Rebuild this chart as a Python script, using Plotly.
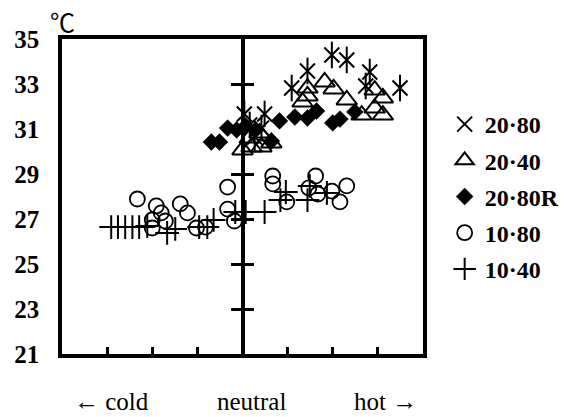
import plotly.graph_objects as go

# ---------------- data ----------------
# x: thermal sensation scale (cold -4 ... neutral 0 ... hot +4), y: temperature (deg C)
s2080_x = [0.04, 0.49, 0.16, 0.42, 0.27, 1.98, 2.31, 1.44, 2.82, 1.09, 3.49, 2.73]
s2080_y = [31.67, 31.67, 31.18, 31.04, 30.64, 34.29, 34.07, 33.58, 33.53, 32.82, 32.82, 32.91]

s2040_x = [0.00, 0.20, 0.42, 0.64, 0.16, 0.38, 1.44, 1.44, 1.82, 2.02, 1.33, 2.31, 2.64, 2.93, 3.11, 2.93, 3.11]
s2040_y = [30.07, 30.20, 30.20, 30.38, 30.60, 30.82, 32.82, 32.47, 33.09, 32.78, 32.20, 32.29, 31.62, 32.73, 32.38, 31.93, 31.62]

s2080r_x = [-0.69, -0.51, -0.33, -0.13, 0.07, 0.29, 0.64, 0.82, 1.16, 1.44, 1.64, 2.00, 2.16, 2.49]
s2080r_y = [30.42, 30.42, 31.04, 30.96, 31.13, 30.96, 30.47, 31.36, 31.53, 31.49, 31.80, 31.27, 31.44, 31.76]

s1080_x = [-2.33, -1.91, -1.80, -1.38, -1.22, -2.00, -1.71, -2.00, -1.02, -0.82, -0.33, -0.33, -0.18,
           0.67, 0.67, 0.98, 1.62, 1.47, 1.67, 1.98, 2.16, 2.31]
s1080_y = [27.89, 27.58, 27.27, 27.67, 27.27, 26.96, 26.91, 26.60, 26.60, 26.64, 28.42, 27.44, 26.91,
           28.91, 28.56, 27.76, 28.91, 28.38, 28.11, 28.24, 27.76, 28.47]

s1040_x = [-2.91, -2.76, -2.60, -2.44, -2.29, -2.11, -1.67, -1.49, -0.96, -0.78, -0.64, -0.16, 0.07, 0.49,
           0.84, 0.96, 1.44, 1.49, 1.87]
s1040_y = [26.64, 26.64, 26.64, 26.64, 26.64, 26.69, 26.38, 26.56, 26.64, 26.64, 26.96, 27.31, 27.31, 27.31,
           27.84, 28.20, 27.84, 28.47, 28.16]

series_names = ["20·80", "20·40", "20·80R", "10·80", "10·40"]

x_tick_vals = [-3, -2, -1, 1, 2, 3]
y_tick_vals = [21, 23, 25, 27, 29, 31, 33, 35]
mid_tick_vals = [23, 25, 27, 29, 31, 33]
x_range = [-4, 4]
y_range = [21, 35]

bottom_labels = ["← cold", "neutral", "hot →"]
bottom_label_x = [-2.91, 0.2, 3.16]

# ---------------- figure ----------------
SERIF = "Liberation Serif, Times New Roman, serif"
fig = go.Figure()

fig.add_trace(go.Scatter(x=s2080_x, y=s2080_y, mode="markers", name=series_names[0],
                         legendgroup="a",
                         marker=dict(symbol="x-thin-open", size=15, color="black",
                                     line=dict(color="black", width=2))))
fig.add_trace(go.Scatter(x=s2080_x, y=s2080_y, mode="markers", name=series_names[0],
                         legendgroup="a", showlegend=False,
                         marker=dict(symbol="line-ns-open", size=19, color="black",
                                     line=dict(color="black", width=2))))
fig.add_trace(go.Scatter(x=s2040_x, y=s2040_y, mode="markers", name=series_names[1],
                         legendgroup="b",
                         marker=dict(symbol="triangle-up-open", size=18, color="black",
                                     line=dict(color="black", width=2))))
fig.add_trace(go.Scatter(x=s2080r_x, y=s2080r_y, mode="markers", name=series_names[2],
                         legendgroup="c",
                         marker=dict(symbol="diamond", size=13, color="black",
                                     line=dict(color="black", width=0.5))))
fig.add_trace(go.Scatter(x=s1080_x, y=s1080_y, mode="markers", name=series_names[3],
                         legendgroup="d",
                         marker=dict(symbol="circle-open", size=15, color="black",
                                     line=dict(color="black", width=1.8))))
fig.add_trace(go.Scatter(x=s1040_x, y=s1040_y, mode="markers", name=series_names[4],
                         legendgroup="e",
                         marker=dict(symbol="cross-thin-open", size=17, color="black",
                                     line=dict(color="black", width=2))))

# invisible helpers so the central (neutral) axes get drawn
fig.add_trace(go.Scatter(x=[None], y=[None], yaxis="y2", showlegend=False, hoverinfo="skip"))
fig.add_trace(go.Scatter(x=[None], y=[None], yaxis="y3", showlegend=False, hoverinfo="skip"))

for lab, lx in zip(bottom_labels, bottom_label_x):
    fig.add_annotation(text=lab, x=lx, xref="x", y=-0.152, yref="paper",
                       showarrow=False, xanchor="center", yanchor="middle",
                       font=dict(family=SERIF, size=25, color="black"))

fig.add_annotation(text="℃", x=0.0, xref="paper", y=1.057, yref="paper",
                   showarrow=False, xanchor="center", yanchor="middle",
                   font=dict(family="Noto Sans CJK JP, Liberation Serif", size=25, color="black"))

fig.update_layout(
    width=578, height=417,
    margin=dict(l=62, r=155, t=39, b=63, autoexpand=False),
    paper_bgcolor="white", plot_bgcolor="white",
    font=dict(family=SERIF, color="black"),
    showlegend=True,
    legend=dict(x=1.06, y=0.80, xanchor="left", yanchor="top",
                font=dict(family=SERIF, size=24, color="black", weight="bold"),
                bgcolor="rgba(0,0,0,0)", tracegroupgap=2, itemwidth=30),
    xaxis=dict(range=x_range, showgrid=False, zeroline=False,
               showline=True, linecolor="black", linewidth=3.5, mirror=True,
               tickvals=x_tick_vals, ticks="inside", ticklen=7, tickwidth=3, tickcolor="black",
               showticklabels=False),
    yaxis=dict(range=y_range, showgrid=False, zeroline=False,
               showline=True, linecolor="black", linewidth=3.5, mirror=True,
               tickvals=y_tick_vals, ticks="", ticklabelstandoff=14,
               tickfont=dict(family=SERIF, size=25, color="black", weight="bold")),
    yaxis2=dict(range=y_range, overlaying="y", anchor="free", position=0.5, side="left",
                showgrid=False, zeroline=False, showline=True, linecolor="black", linewidth=3.5,
                tickvals=mid_tick_vals, ticks="outside", ticklen=10, tickwidth=3, tickcolor="black",
                showticklabels=False),
    yaxis3=dict(range=y_range, overlaying="y", anchor="free", position=0.5, side="right",
                showgrid=False, zeroline=False, showline=False,
                tickvals=mid_tick_vals, ticks="outside", ticklen=10, tickwidth=3, tickcolor="black",
                showticklabels=False),
)

fig.write_html("out.html")
